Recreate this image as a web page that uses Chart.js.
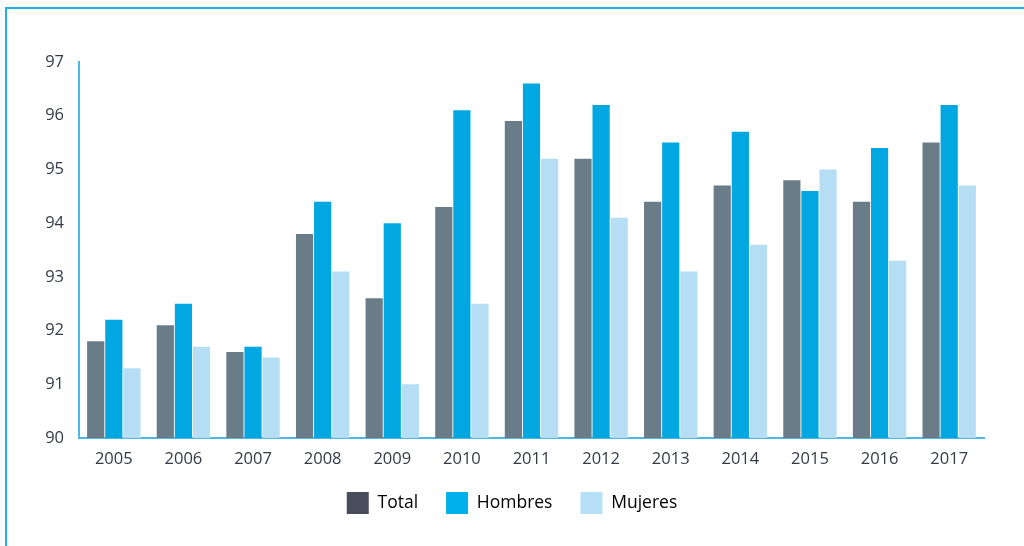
<!DOCTYPE html>
<html>
<head>
<meta charset="utf-8">
<script src="https://cdn.jsdelivr.net/npm/chart.js@4"></script>
<style>
    html, body { margin: 0; padding: 0; background: #fff; }
    #frame {
        position: absolute; left: 5px; top: 7px;
        width: 1100px; height: 600px;
        border-left: 2px solid #1cb0e6; border-top: 2px solid #1cb0e6;
    }
    #wrap { position: absolute; left: 0; top: 0; width: 1024px; height: 546px; }
</style>
</head>
<body>
<div id="frame"></div>
<div id="wrap"><canvas id="chart" width="1024" height="546"></canvas></div>
<script>
// Data
const years = ['2005', '2006', '2007', '2008', '2009', '2010', '2011', '2012', '2013', '2014', '2015', '2016', '2017'];
const total   = [91.8, 92.1, 91.6, 93.8, 92.6, 94.3, 95.9, 95.2, 94.4, 94.7, 94.8, 94.4, 95.5];
const hombres = [92.2, 92.5, 91.7, 94.4, 94.0, 96.1, 96.6, 96.2, 95.5, 95.7, 94.6, 95.4, 96.2];
const mujeres = [91.3, 91.7, 91.5, 93.1, 91.0, 92.5, 95.2, 94.1, 93.1, 93.6, 95.0, 93.3, 94.7];
const seriesNames = ['Total', 'Hombres', 'Mujeres'];
const yMin = 90;
const yMax = 97;

document.addEventListener('DOMContentLoaded', function() {
    const textColor = '#333a44';
    const axisColor = '#4cb8e6';
    const barColors = ['#6a7c88', '#00a7e1', '#b5def5'];
    const legendColors = ['#474d5a', '#00b0ea', '#b5e0f7'];

    Chart.defaults.font.family = '"Open Sans", Lato, sans-serif';
    Chart.defaults.color = textColor;

    const ctx = document.getElementById('chart').getContext('2d');
    new Chart(ctx, {
        type: 'bar',
        data: {
            labels: years,
            datasets: [total, hombres, mujeres].map(function(values, i) {
                return {
                    label: seriesNames[i],
                    data: values,
                    backgroundColor: barColors[i],
                    borderWidth: 0,
                    categoryPercentage: 0.78,
                    barPercentage: 0.95
                };
            })
        },
        options: {
            responsive: false,
            animation: false,
            layout: { padding: { top: 62, right: 0, bottom: 22, left: 0 } },
            plugins: {
                tooltip: { enabled: false },
                legend: {
                    position: 'bottom',
                    labels: {
                        boxWidth: 22,
                        boxHeight: 22,
                        padding: 28,
                        color: textColor,
                        font: { size: 17.5 },
                        generateLabels: function(chart) {
                            return chart.data.datasets.map(function(ds, i) {
                                return {
                                    text: ds.label,
                                    fillStyle: legendColors[i],
                                    strokeStyle: legendColors[i],
                                    lineWidth: 0,
                                    datasetIndex: i
                                };
                            });
                        }
                    }
                }
            },
            scales: {
                x: {
                    grid: { display: false, drawTicks: false },
                    border: { color: axisColor, width: 2 },
                    ticks: { padding: 11, font: { size: 16.5 }, color: textColor },
                    afterFit: function(scale) { scale.height = 26; }
                },
                y: {
                    min: yMin,
                    max: yMax,
                    grid: { display: false, drawTicks: false },
                    border: { color: axisColor, width: 2 },
                    ticks: { stepSize: 1, padding: 15, font: { size: 16.5 }, color: textColor },
                    afterFit: function(scale) { scale.width = 79; }
                },
                // empty right-side spacer so the plot ends at x=984 while the legend stays centred on the page
                spacer: {
                    position: 'right',
                    grid: { display: false, drawTicks: false },
                    border: { display: false },
                    ticks: { display: false },
                    afterFit: function(scale) { scale.width = 40; }
                }
            }
        }
    });
});
</script>
</body>
</html>
